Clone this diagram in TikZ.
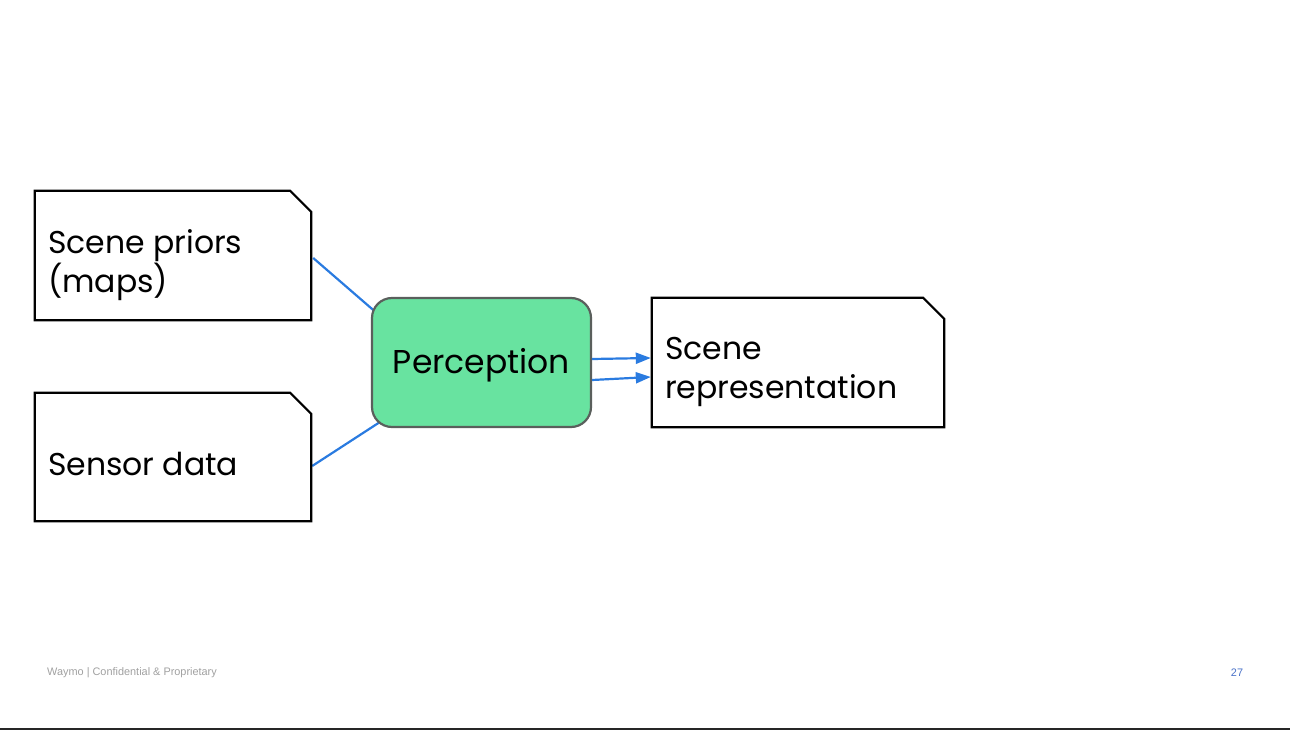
\documentclass[tikz,border=0pt]{standalone}
\usepackage{fontspec}
\setmainfont{Poppins}
\newfontfamily\footfont{Liberation Sans}
\usetikzlibrary{arrows.meta,calc,backgrounds}
\definecolor{percfill}{HTML}{68E3A0}
\definecolor{percdraw}{HTML}{5A5F5C}
\definecolor{connblue}{HTML}{2A7BE0}
\definecolor{footgray}{HTML}{A0A0A0}
\definecolor{pageblue}{HTML}{4A72C8}
\tikzset{
  docbox/.style={rectangle, draw=none, inner sep=0pt},
  docoutline/.style={draw=black, line width=2.2pt, line join=miter},
  doctext/.style={anchor=west, inner sep=0pt, align=left, font=\fontsize{31.5}{39.5}\selectfont},
  procbox/.style={rectangle, rounded corners=20pt, draw=percdraw, line width=2.2pt,
    fill=percfill, minimum width=219pt, minimum height=129pt, inner sep=0pt},
  proctext/.style={inner sep=0pt, font=\fontsize{33}{38}\selectfont},
  conn/.style={draw=connblue, line width=2.2pt},
  arr/.style={conn, -{Triangle[length=15pt,width=11pt]}},
  foottext/.style={inner sep=0pt, font=\footfont\fontsize{10.9}{12}\selectfont},
}
\newcommand{\chamferbox}[1]{%
  \draw[docoutline] (#1.south west) -- (#1.north west) -- ($(#1.north east)+(-21,0)$)
    -- ($(#1.north east)+(0,21)$) -- (#1.south east) -- cycle;}
\begin{document}
\begin{tikzpicture}[x=1pt,y=-1pt]
\useasboundingbox (0,0) rectangle (1290,730);
\node[docbox, minimum width=276pt, minimum height=129pt] (b1) at (173,255.5) {};
\node[docbox, minimum width=276pt, minimum height=128pt] (b2) at (173,457) {};
\node[procbox] (perc) at (481.5,362.5) {};
\node[docbox, minimum width=292pt, minimum height=129pt] (sr) at (798,362.5) {};
\chamferbox{b1}
\chamferbox{b2}
\chamferbox{sr}
\node[doctext] (b1t) at ($(b1.west)+(13,9.5)$) {Scene priors\\(maps)};
\node[doctext] (b2t) at ($(b2.west)+(13,7)$) {Sensor data};
\node[doctext] (srt) at ($(sr.west)+(13,9.5)$) {Scene\\representation};
\node[proctext] (perct) at ($(perc.center)+(0,3)$) {Perception};
\begin{scope}[on background layer]
\draw[conn] ($(b1.east)+(2,2.5)$) -- ($(perc.north west)+(8,18)$);
\draw[conn] ($(b2.east)+(1,9)$) -- ($(perc.south west)+(12,-8)$);
\end{scope}
\draw[arr] ($(perc.east)+(0,-3.5)$) -- ($(sr.west)+(-1,-4.5)$);
\draw[arr] ($(perc.east)+(0,17.5)$) -- ($(sr.west)+(-1,14.5)$);
\node[foottext, text=footgray, anchor=west] (foot) at (47,673) {Waymo | Confidential \& Proprietary};
\node[foottext, text=pageblue] (page) at (1237,673) {27};
\fill[black!85] (0,727.5) rectangle (1290,730);
\end{tikzpicture}
\end{document}
